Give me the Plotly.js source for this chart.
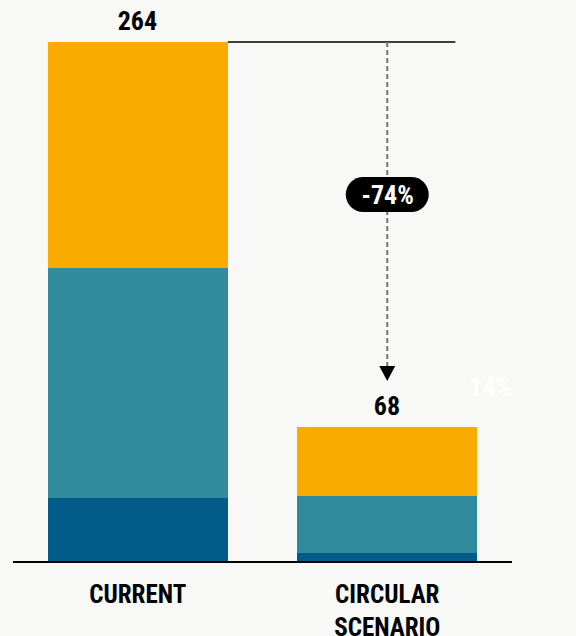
<!DOCTYPE html>
<html><head><meta charset="utf-8">
<script src="https://cdn.plot.ly/plotly-3.0.1.min.js"></script>
<style>html,body{margin:0;padding:0;background:#f8f8f6;}#chart{width:576px;height:636px;}
#chart text{font-stretch:condensed;}</style>
</head><body><div id="chart"></div>
<script>
const categories = ["CURRENT", "CIRCULAR<br>SCENARIO"];
const seriesBottom = [32, 4];
const seriesMiddle = [117, 29];
const seriesTop = [115, 35];
const totals = [264, 68];
const changeLabel = "-74%";
const ghostLabel = "14%";
const colors = ["#035b8a", "#318b9d", "#f9ab00"];
const FONT = "Roboto, DejaVu Sans Condensed, sans-serif";

const xs = [0, 1];
const traces = [seriesBottom, seriesMiddle, seriesTop].map((v, i) => ({
  type: "bar", x: xs, y: v, marker: {color: colors[i], line: {width: 0}},
  hoverinfo: "skip", showlegend: false
}));

const bargap = 0.277;
const half = (1 - bargap) / 2;
const pxPerUnit = 519 / 264;
const plotH = 561;
const yMax = plotH / pxPerUnit;

const layout = {
  width: 576, height: 636,
  paper_bgcolor: "#f8f8f6", plot_bgcolor: "#f8f8f6",
  margin: {l: 13, r: 64, t: 0, b: 75},
  barmode: "stack", bargap: bargap,
  font: {family: FONT, color: "#000"},
  xaxis: {
    range: [-0.5, 1.5], tickvals: xs, ticktext: categories,
    showline: true, linecolor: "#000", linewidth: 2, showgrid: false, zeroline: false,
    ticks: "outside", ticklen: 10, tickcolor: "rgba(0,0,0,0)",
    tickfont: {family: FONT, size: 25, color: "#000", weight: "bold"}, fixedrange: true
  },
  yaxis: {range: [0, yMax], visible: false, fixedrange: true},
  shapes: [
    {type: "line", xref: "x", yref: "y", x0: xs[0] + half, x1: 1.273, y0: totals[0], y1: totals[0],
     line: {color: "#000", width: 1.5}},
    {type: "line", xref: "x", yref: "y", x0: xs[1], x1: xs[1], y0: totals[0], y1: (561 - 366) / pxPerUnit,
     line: {color: "#747474", width: 2, dash: "5px,3px"}},
    {type: "path", xref: "x", yref: "y", xsizemode: "pixel", ysizemode: "pixel",
     xanchor: xs[1], yanchor: (561 - 381) / pxPerUnit,
     path: "M-8,15 L8,15 L0,0 Z", fillcolor: "#000", line: {width: 0}},
    {type: "path", xref: "x", yref: "y", xsizemode: "pixel", ysizemode: "pixel",
     xanchor: xs[1], yanchor: (561 - 194.5) / pxPerUnit,
     path: "M-24,-17.5 L24,-17.5 C33.67,-17.5 41.5,-9.67 41.5,0 C41.5,9.67 33.67,17.5 24,17.5 L-24,17.5 C-33.67,17.5 -41.5,9.67 -41.5,0 C-41.5,-9.67 -33.67,-17.5 -24,-17.5 Z",
     fillcolor: "#000", line: {width: 0}}
  ],
  annotations: [
    ...totals.map((t, i) => ({
      x: xs[i], y: t, xref: "x", yref: "y", text: "<b>" + t + "</b>", showarrow: false,
      yanchor: "bottom", yshift: 4, font: {family: FONT, size: 26, color: "#000"}
    })),
    {x: xs[1], y: (561 - 194.5) / pxPerUnit, xref: "x", yref: "y", text: "<b>" + changeLabel + "</b>",
     showarrow: false, font: {family: FONT, size: 26, color: "#fff"}},
    {x: 1.414, y: (561 - 387) / pxPerUnit, xref: "x", yref: "y", text: "<b>" + ghostLabel + "</b>",
     showarrow: false, font: {family: FONT, size: 26, color: "#ffffff"}}
  ]
};
Plotly.newPlot("chart", traces, layout, {displayModeBar: false, staticPlot: true});
</script></body></html>
